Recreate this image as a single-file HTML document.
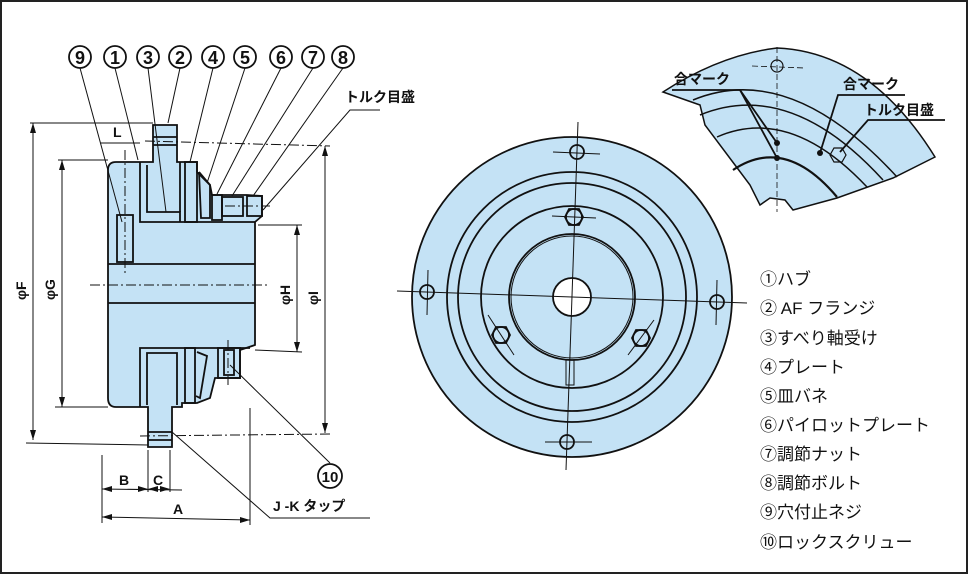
<!DOCTYPE html>
<html><head><meta charset="utf-8"><style>
html,body{margin:0;padding:0;background:#fff}
svg{display:block}
text{font-family:"Liberation Sans","Noto Sans CJK JP",sans-serif;fill:#111}
</style></head><body>
<svg width="969" height="575" viewBox="0 0 969 575" xmlns="http://www.w3.org/2000/svg">
<rect x="1" y="1" width="966" height="572" fill="#fff" stroke="#222" stroke-width="2"/>
<g stroke="#111" fill="none" stroke-width="1">
<path d="M108,170 Q108,162 116,162 L153,162 L153,125 L177,125 L177,162 L197,162 L197,172 L210,185 L212,195 L247,195 L262,196 L262,216 L255,222 L255,345 L240,350 L240,378 L215,378 L210,398 L197,403 L182,403 L182,407 L172,407 L172,447 L148,447 L148,407 L116,407 Q108,407 108,398 Z" fill="#c4e2f5" stroke-width="1.8"/>
<g stroke-width="1.8">
<line x1="108" y1="264" x2="255" y2="264"/>
<line x1="108" y1="303" x2="255" y2="303"/>
<polyline points="140,162 140,222 255,222"/>
<polyline points="147,165 147,212 180,212 180,222"/>
<line x1="180" y1="162" x2="180" y2="212"/>
<rect x="185" y="162" width="12" height="60"/>
<polyline points="199,172 210,185 210,218 201,218 199,172"/>
<rect x="212" y="195" width="10" height="25"/>
<rect x="222" y="197" width="21" height="19"/>
<rect x="247" y="196" width="15" height="20"/>
<rect x="117" y="215" width="16" height="47"/>
<line x1="153" y1="137" x2="177" y2="137"/><line x1="153" y1="145" x2="177" y2="145"/>
<polyline points="140,407 140,348 250,348"/>
<polyline points="147,405 147,353 177,353 177,405"/>
<rect x="185" y="348" width="10" height="55"/>
<polyline points="197,352 207,356 200,398 196,396"/>
<rect x="218" y="348" width="22" height="30"/>
<rect x="224" y="350" width="10" height="25"/>
<line x1="148" y1="432" x2="172" y2="432"/><line x1="148" y1="440" x2="172" y2="440"/>
</g>
<g stroke-dasharray="10,3,2,3">
<line x1="90" y1="285" x2="270" y2="285"/>
<line x1="125" y1="150" x2="125" y2="275"/>
<line x1="145" y1="141" x2="330" y2="146"/>
<line x1="140" y1="436" x2="330" y2="434"/>
<line x1="228" y1="340" x2="228" y2="385"/>
<line x1="225" y1="206" x2="270" y2="206"/>
</g>
<line x1="30" y1="123" x2="153" y2="123"/>
<line x1="33" y1="123" x2="33" y2="440"/>
<line x1="26" y1="443" x2="148" y2="445"/>
<line x1="58" y1="160" x2="108" y2="160"/>
<line x1="62" y1="160" x2="62" y2="407"/>
<line x1="55" y1="407" x2="108" y2="407"/>
<line x1="258" y1="225" x2="302" y2="225"/>
<line x1="297" y1="225" x2="297" y2="352"/>
<line x1="255" y1="350" x2="302" y2="352"/>
<line x1="325" y1="146" x2="325" y2="433"/>
<line x1="100" y1="143" x2="140" y2="143"/>
<line x1="102" y1="455" x2="102" y2="523"/>
<line x1="148" y1="450" x2="148" y2="492"/>
<line x1="170" y1="450" x2="170" y2="492"/>
<line x1="250" y1="408" x2="250" y2="525"/>
<line x1="102" y1="489" x2="182" y2="490"/>
<line x1="102" y1="517" x2="250" y2="520"/>
<line x1="80" y1="68" x2="122" y2="222"/>
<line x1="115" y1="68" x2="138" y2="160"/>
<line x1="148" y1="68" x2="166" y2="212"/>
<line x1="180" y1="68" x2="168" y2="123"/>
<line x1="213" y1="68" x2="190" y2="162"/>
<line x1="245" y1="68" x2="207" y2="183"/>
<line x1="281" y1="68" x2="217" y2="194"/>
<line x1="313" y1="68" x2="232" y2="196"/>
<line x1="343" y1="68" x2="253" y2="196"/>
<polyline points="380,110 350,110 263,210"/>
<polyline points="330,463 230,365"/>
<polyline points="370,518 270,518 172,432"/>
</g>
<g fill="#111">
<polygon points="33,123 30,133 36,133"/><polygon points="33,440 30,430 36,430"/>
<polygon points="62,160 59,170 65,170"/><polygon points="62,407 59,397 65,397"/>
<polygon points="297,225 294,235 300,235"/><polygon points="297,352 294,342 300,342"/>
<polygon points="325,146 322,156 328,156"/><polygon points="325,433 322,423 328,423"/>
<polygon points="102,489 112,486 112,492"/><polygon points="148,489 138,486 138,492"/>
<polygon points="148,489 158,486 158,492"/><polygon points="170,489 160,486 160,492"/>
<polygon points="102,517 112,514 112,520"/><polygon points="250,520 240,517 240,523"/>
</g>
<g stroke="#111" stroke-width="1.8" fill="#fff">
<circle cx="80" cy="57" r="11"/><circle cx="115" cy="57" r="11"/><circle cx="148" cy="57" r="11"/>
<circle cx="180" cy="57" r="11"/><circle cx="213" cy="57" r="11"/><circle cx="245" cy="57" r="11"/>
<circle cx="281" cy="57" r="11"/><circle cx="313" cy="57" r="11"/><circle cx="343" cy="57" r="11"/>
<circle cx="330" cy="476" r="12"/>
</g>
<g font-size="18" font-weight="bold" text-anchor="middle">
<text x="80" y="64">9</text><text x="115" y="64">1</text><text x="148" y="64">3</text>
<text x="180" y="64">2</text><text x="213" y="64">4</text><text x="245" y="64">5</text>
<text x="281" y="64">6</text><text x="313" y="64">7</text><text x="343" y="64">8</text>
<text x="330" y="482" font-size="15">10</text>
</g>
<g font-size="14" font-weight="bold">
<text x="113" y="137">L</text>
<text x="119" y="485">B</text><text x="153" y="485">C</text><text x="173" y="514">A</text>
<text x="273" y="511">J -K タップ</text>
<text x="345" y="102">トルク目盛</text>
<text transform="translate(26,300) rotate(-90)">φF</text>
<text transform="translate(55,300) rotate(-90)">φG</text>
<text transform="translate(290,305) rotate(-90)">φH</text>
<text transform="translate(318,305) rotate(-90)">φI</text>
</g>
<g stroke="#111" stroke-width="1.8">
<circle cx="572" cy="297" r="160" fill="#c4e2f5"/>
<circle cx="572" cy="297" r="125" fill="none"/>
<circle cx="572" cy="297" r="114" fill="none"/>
<circle cx="572" cy="297" r="91" fill="none"/>
<circle cx="572" cy="297" r="63" fill="none"/>
<circle cx="572" cy="297" r="61" fill="none" stroke-width="1"/>
<circle cx="572" cy="297" r="19" fill="#fff"/>
<g fill="none">
<circle cx="577" cy="152" r="7"/><circle cx="567" cy="442" r="7"/>
<circle cx="427" cy="292" r="7"/><circle cx="717" cy="302" r="7"/>
<polygon points="565,217 569,209 579,209 583,217 579,225 569,225"/>
<circle cx="574" cy="217" r="8"/>
<polygon points="492,335 496,327 506,327 510,335 506,343 496,343"/>
<circle cx="501" cy="335" r="8"/>
<polygon points="632,338 636,330 646,330 650,338 646,346 636,346"/>
<circle cx="641" cy="338" r="8"/>
<rect x="566" y="360" width="8" height="25" stroke-width="1"/>
</g>
</g>
<g stroke="#111" stroke-width="1">
<line x1="578" y1="122" x2="566" y2="470"/>
<line x1="397" y1="291" x2="747" y2="303"/>
<line x1="553" y1="152" x2="600" y2="154"/>
<line x1="545" y1="442" x2="592" y2="442"/>
<line x1="428" y1="270" x2="427" y2="315"/>
<line x1="717" y1="280" x2="716" y2="325"/>
<line x1="552" y1="216" x2="596" y2="218"/>
<line x1="488" y1="315" x2="514" y2="355"/>
<line x1="628" y1="355" x2="654" y2="320"/>
</g>
<path d="M663,92 Q720,55 777,48 Q870,52 935,157 L893,178 L837,198 L793,210 L785,200 L770,198 L760,205 L750,185 L735,165 L705,125 L700,105 Z" fill="#c4e2f5" stroke="#111" stroke-width="1.5"/>
<g stroke="#111" fill="none" stroke-width="1.5">
<path d="M693,100 Q790,60 897,177"/>
<path d="M700,115 Q790,78 883,180"/>
<path d="M717,137 Q790,105 867,187"/>
<path d="M733,170 Q785,135 837,197" stroke-width="2.2"/>
<circle cx="777" cy="66" r="6" stroke-width="1.2"/>
<line x1="777" y1="47" x2="777" y2="212" stroke-width="0.8" stroke-dasharray="6,3"/>
<line x1="752" y1="66" x2="805" y2="68" stroke-width="0.8" stroke-dasharray="6,3"/>
<polygon points="830,155 834,148 842,148 846,155 842,162 834,162" stroke-width="1.2"/>
<polyline points="672,90 740,90 777,143" stroke-width="1.8"/>
<line x1="740" y1="90" x2="777" y2="158" stroke-width="1.8"/>
<polyline points="905,95 838,95 820,153" stroke-width="1.8"/>
<polyline points="945,120 868,120 840,152" stroke-width="1.8"/>
</g>
<g fill="#111"><circle cx="777" cy="143" r="3"/><circle cx="777" cy="158" r="3"/><circle cx="820" cy="153" r="3"/></g>
<g font-size="14" font-weight="bold">
<text x="674" y="84">合マーク</text>
<text x="843" y="89">合マーク</text>
<text x="864" y="115">トルク目盛</text>
</g>
<g font-size="17">
<text x="760" y="285">①ハブ</text>
<text x="760" y="314">② AF フランジ</text>
<text x="760" y="344">③すべり軸受け</text>
<text x="760" y="373">④プレート</text>
<text x="760" y="402">⑤皿バネ</text>
<text x="760" y="431">⑥パイロットプレート</text>
<text x="760" y="460">⑦調節ナット</text>
<text x="760" y="489">⑧調節ボルト</text>
<text x="760" y="518">⑨穴付止ネジ</text>
<text x="760" y="548">⑩ロックスクリュー</text>
</g>
</svg>
</body></html>
